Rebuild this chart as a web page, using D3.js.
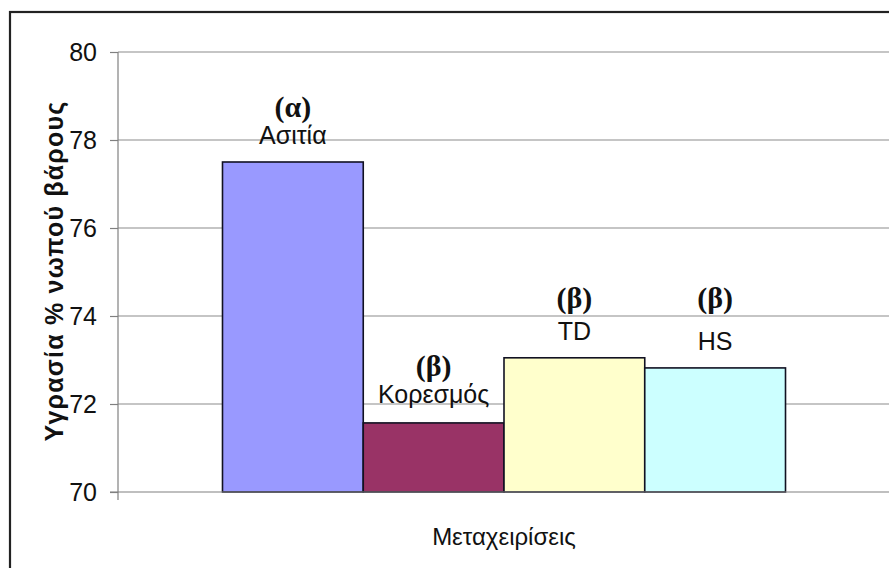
<!DOCTYPE html>
<html>
<head>
<meta charset="utf-8">
<script src="https://cdn.jsdelivr.net/npm/d3@7"></script>
<style>
  body { margin: 0; background: #fff; }
  svg { display: block; }
</style>
</head>
<body>
<svg id="chart" width="889" height="568"></svg>
<script>
// ---- data ----
const category = ["Μεταχειρίσεις"];
const series = ["Ασιτία", "Κορεσμός", "TD", "HS"];
const values = [77.5, 71.57, 73.05, 72.82];
const letters = ["(α)", "(β)", "(β)", "(β)"];
const yTicks = [70, 72, 74, 76, 78, 80];
const yLabel = "Υγρασία % νωπού βάρους";
const colors = ["#9999FF", "#993366", "#FFFFCC", "#CCFFFF"];

// ---- layout ----
const svg = d3.select("#chart");
const pLeft = 118, pRight = 890, pTop = 52, pBottom = 492;
const letterLift = [45, 47, 50, 60];
const nameLift = 18;

svg.append("rect").attr("x", 10).attr("y", 12).attr("width", 900).attr("height", 600)
  .attr("fill", "#fff").attr("stroke", "#222").attr("stroke-width", 2.2);

const y = d3.scaleLinear().domain([70, 80]).range([pBottom, pTop]);
const x0 = d3.scaleBand().domain(category).range([pLeft, pRight]).paddingInner(0).paddingOuter(0.1856);
const x1 = d3.scaleBand().domain(series).range([0, x0.bandwidth()]).padding(0);

// gridlines
svg.append("g").selectAll("line").data(yTicks.filter(t => t !== 70)).join("line")
  .attr("x1", pLeft).attr("x2", pRight)
  .attr("y1", d => y(d)).attr("y2", d => y(d))
  .attr("stroke", "#8c8c8c").attr("stroke-width", 1.2);

// y axis
const yAxis = svg.append("g").attr("transform", `translate(${pLeft},0)`)
  .call(d3.axisLeft(y).tickValues(yTicks).tickSize(8).tickPadding(13).tickFormat(d3.format("d")));
yAxis.select(".domain").remove();
yAxis.selectAll(".tick line").attr("stroke", "#808080").attr("stroke-width", 1.2);
yAxis.selectAll("text").attr("font-family", "Liberation Sans, Arial, sans-serif")
  .attr("font-size", 25).attr("fill", "#111");
svg.append("line").attr("x1", pLeft).attr("x2", pLeft).attr("y1", pTop).attr("y2", pBottom + 8)
  .attr("stroke", "#808080").attr("stroke-width", 1.2);

// bars
const g = svg.append("g").attr("transform", `translate(${x0(category[0])},0)`);
g.selectAll("rect").data(values).join("rect")
  .attr("x", (d, i) => x1(series[i]))
  .attr("y", d => y(d))
  .attr("width", x1.bandwidth())
  .attr("height", d => y(70) - y(d))
  .attr("fill", (d, i) => colors[i])
  .attr("stroke", "#111122").attr("stroke-width", 1.6);

// x axis baseline
svg.append("line").attr("x1", pLeft - 8).attr("x2", pRight).attr("y1", pBottom).attr("y2", pBottom)
  .attr("stroke", "#808080").attr("stroke-width", 1.2);

// series names
g.selectAll("text.name").data(values).join("text").attr("class", "name")
  .attr("x", (d, i) => x1(series[i]) + x1.bandwidth() / 2)
  .attr("y", (d, i) => y(d) - nameLift - (i === 1 ? 2 : 0))
  .attr("text-anchor", "middle")
  .attr("font-family", "Liberation Sans, Arial, sans-serif")
  .attr("font-size", 25).attr("fill", "#111")
  .text((d, i) => series[i]);

// significance letters
g.selectAll("text.letter").data(values).join("text").attr("class", "letter")
  .attr("x", (d, i) => x1(series[i]) + x1.bandwidth() / 2)
  .attr("y", (d, i) => y(d) - letterLift[i])
  .attr("text-anchor", "middle")
  .attr("font-family", "Liberation Serif, Times New Roman, serif")
  .attr("font-weight", "bold")
  .attr("font-size", 30).attr("fill", "#111")
  .text((d, i) => letters[i]);

// x title
svg.append("text").attr("x", x0(category[0]) + x0.bandwidth() / 2).attr("y", 545)
  .attr("text-anchor", "middle")
  .attr("font-family", "Liberation Sans, Arial, sans-serif")
  .attr("font-size", 24).attr("fill", "#111")
  .text(category[0]);

// y title
svg.append("text").attr("transform", `translate(63,271) rotate(-90)`)
  .attr("text-anchor", "middle")
  .attr("font-family", "Liberation Sans, Arial, sans-serif")
  .attr("font-weight", "bold")
  .attr("font-size", 25).attr("letter-spacing", 1.2).attr("fill", "#111")
  .text(yLabel);
</script>
</body>
</html>
